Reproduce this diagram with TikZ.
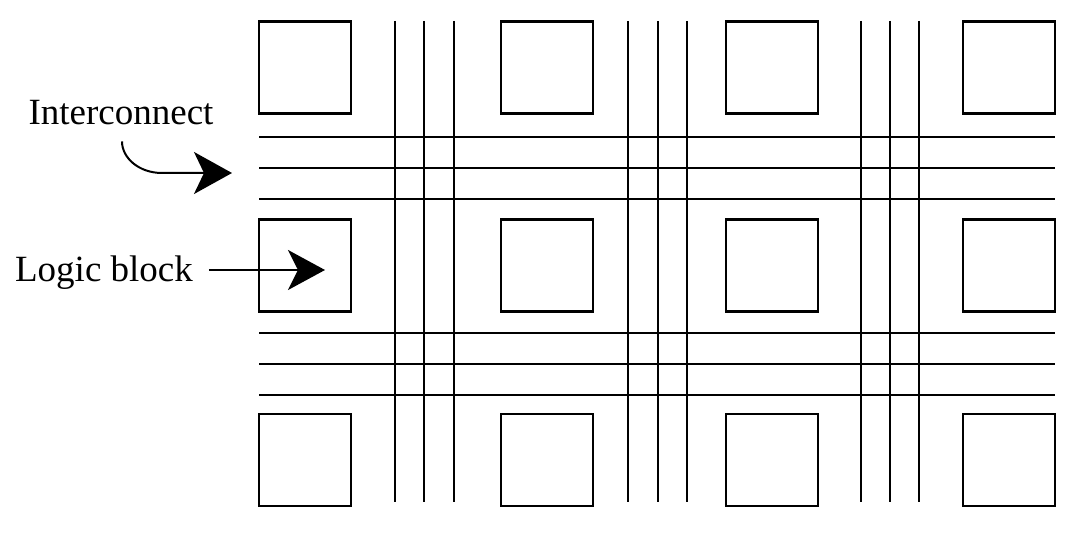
\documentclass[tikz,border=0pt]{standalone}
\usepackage{fontspec}
\setmainfont{Liberation Serif}
\usetikzlibrary{arrows.meta}

\begin{document}
\begin{tikzpicture}[x=0.5pt, y=-0.5pt, line width=1.1pt,
  logicblock/.style={draw, minimum size=46pt, inner sep=0pt},
  lbltext/.style={inner sep=0pt, anchor=base, font=\fontsize{18.5}{22}\selectfont},
  bigarrow/.style={-{Stealth[length=18.5pt,width=20pt,inset=5pt]}, line width=1pt}]
  \useasboundingbox (0,0) rectangle (1075,533);
  % routing tracks
  \foreach \x in {395,424,454,628,658,687,861,890,919}
    \draw (\x,21) -- (\x,502);
  \foreach \y in {137,168,199,333,364,395}
    \draw (259,\y) -- (1055,\y);
  % logic blocks
  \foreach \x [count=\c] in {305,547,772,1009}
    \foreach \y [count=\r] in {67.5,265.5,460}
      \node[logicblock] (b-\r-\c) at (\x,\y) {};
  % labels
  \node[lbltext] (ic) at (121,125) {Interconnect};
  \node[lbltext] (lb) at (104,282) {Logic block};
  \coordinate (ictip) at (232,173);
  \coordinate (lbtip) at (325,270);
  \draw[bigarrow, -{Stealth[length=19pt,width=21pt,inset=5pt]}] (ic.south) ++(1,15) .. controls (122,158) and (139,173) .. (162,173) -- (ictip);
  \draw[bigarrow] (lb.east |- lbtip) ++(15,0) -- (lbtip);
\end{tikzpicture}
\end{document}
